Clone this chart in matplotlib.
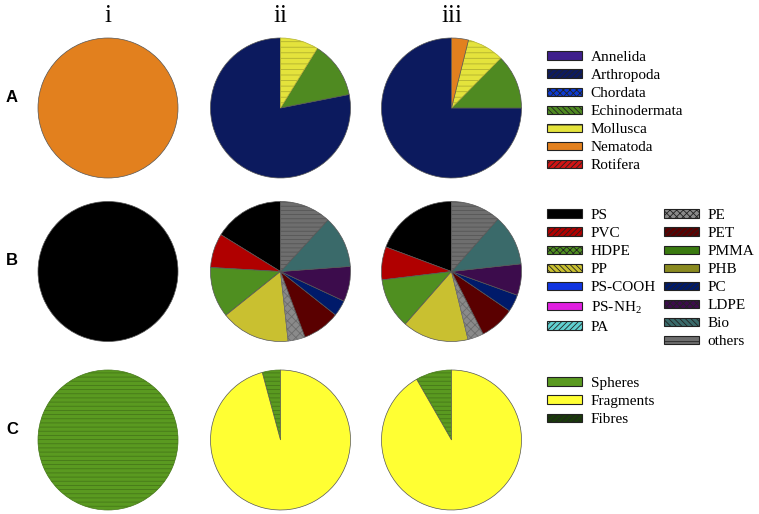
import matplotlib
matplotlib.use("Agg")
import matplotlib.pyplot as plt
from matplotlib.patches import Patch
from matplotlib.colors import to_rgb

plt.rcParams['hatch.linewidth'] = 0.6
plt.rcParams['mathtext.fontset'] = 'custom'
plt.rcParams['mathtext.rm'] = 'Liberation Serif'

# ---- data ----
col_labels = ["i", "ii", "iii"]
row_labels = ["A", "B", "C"]

phyla = ["Annelida", "Arthropoda", "Chordata", "Echinodermata", "Mollusca", "Nematoda", "Rotifera"]
phyla_i = [0, 0, 0, 0, 0, 100, 0]
phyla_ii = [0, 78.1, 0, 13.1, 8.8, 0, 0]
phyla_iii = [0, 75.0, 0, 12.6, 8.5, 3.9, 0]

polymers = ["PS", "PVC", "HDPE", "PP", "PS-COOH", "PS-NH$_\\mathrm{2}$", "PA",
            "PE", "PET", "PMMA", "PHB", "PC", "LDPE", "Bio", "others"]
poly_i = [100, 0, 0, 0, 0, 0, 0, 0, 0, 0, 0, 0, 0, 0, 0]
poly_ii = [58.3, 28.4, 42.0, 57.6, 0, 0, 0, 14.2, 31.2, 0, 0, 13.3, 29.2, 43.2, 42.6]
poly_iii = [69.5, 27.4, 41.8, 55.0, 0, 0, 0, 13.2, 28.9, 0, 0, 14.4, 26.1, 42.2, 41.5]

shapes = ["Spheres", "Fragments", "Fibres"]
shape_i = [100, 0, 0]
shape_ii = [4.2, 95.8, 0]
shape_iii = [8.3, 91.7, 0]

# ---- styles ----
phyla_colors = ["#3f1f8c", "#0c1a5e", "#0b3ad2", "#4f8a21", "#e4e33c", "#e2801e", "#d01414"]
phyla_hatch = [None, "//////", "xxxxx", "\\\\\\\\\\\\", "-", None, "//////"]
phyla_pie_hatch = [None, None, None, None, "---", None, None]

poly_colors = ["#000000", "#b00000", "#4f8f20", "#c9c030", "#1034e0", "#e020e0", "#60d0d0",
               "#8a8a8a", "#5a0000", "#3a7a10", "#8a8a20", "#001a6a", "#3c0c4c", "#3a6a6a", "#6e6e6e"]
poly_hatch = [None, "//////", "xxxxx", "\\\\\\\\\\\\", "-", None, "//////",
              "xxxxx", "//////", "-", None, "//////", "xxxxx", "\\\\\\\\\\\\", "-"]
poly_pie_hatch = [None] * 7 + ["xxxx", None, None, None, None, None, None, "----"]

shape_colors = ["#5a9a20", "#ffff33", "#1a3a0a"]
shape_hatch = ["-", None, "//////"]
shape_pie_hatch = ["----", None, None]

W, H = 759, 514
fig = plt.figure(figsize=(W / 100, H / 100), dpi=100)

col_x = [108, 280.5, 451.5]
row_y = [108, 271.5, 440]
R = 70
pad = 73


def darker(c, f=0.7):
    r, g, b = to_rgb(c)
    return (r * f, g * f, b * f)


def draw_pie(cx, cy, vals, colors, hatches):
    ax = fig.add_axes([(cx - pad) / W, 1 - (cy + pad) / H, 2 * pad / W, 2 * pad / H])
    idx = [k for k, v in enumerate(vals) if v > 0]
    wedges, _ = ax.pie([vals[k] for k in idx], colors=[colors[k] for k in idx],
                       startangle=90, counterclock=True, radius=1,
                       wedgeprops=dict(linewidth=0.5, edgecolor="#555555"))
    for w, k in zip(wedges, idx):
        if hatches[k]:
            w.set_hatch(hatches[k])
            w.set_edgecolor(darker(colors[k], 0.78))
    ax.set_xlim(-pad / R, pad / R)
    ax.set_ylim(-pad / R, pad / R)
    ax.set_aspect("equal")
    ax.axis("off")


rows = [
    ([phyla_i, phyla_ii, phyla_iii], phyla_colors, phyla_pie_hatch),
    ([poly_i, poly_ii, poly_iii], poly_colors, poly_pie_hatch),
    ([shape_i, shape_ii, shape_iii], shape_colors, shape_pie_hatch),
]
for r, (series, cols, hat) in enumerate(rows):
    for c, vals in enumerate(series):
        draw_pie(col_x[c], row_y[r], vals, cols, hat)

for c, lab in enumerate(col_labels):
    fig.text(col_x[c] / W, 1 - 16 / H, lab, ha="center", va="center",
             family="Liberation Serif", fontsize=18)
for r, lab in enumerate(row_labels):
    fig.text(12 / W, 1 - (row_y[r] - 11) / H, lab, ha="center", va="center",
             family="Liberation Sans", fontweight="bold", fontsize=12)


def add_legend(labels, colors, hatches, x, y):
    handles = [Patch(facecolor=colors[k], edgecolor="#222222", hatch=hatches[k],
                     linewidth=0.8, label=labels[k]) for k in range(len(labels))]
    leg = fig.legend(handles=handles, loc="upper left", bbox_to_anchor=(x / W, 1 - y / H),
                     frameon=False, prop={"family": "Liberation Serif", "size": 11},
                     handlelength=2.3, handleheight=0.45, handletextpad=0.55,
                     labelspacing=0.33, borderpad=0, borderaxespad=0)
    return leg


add_legend(phyla, phyla_colors, phyla_hatch, 547, 51)
add_legend(polymers[:7], poly_colors[:7], poly_hatch[:7], 547, 209)
add_legend(polymers[7:], poly_colors[7:], poly_hatch[7:], 664, 209)
add_legend(shapes, shape_colors, shape_hatch, 547, 377)

fig.savefig("out.png", dpi=100)
